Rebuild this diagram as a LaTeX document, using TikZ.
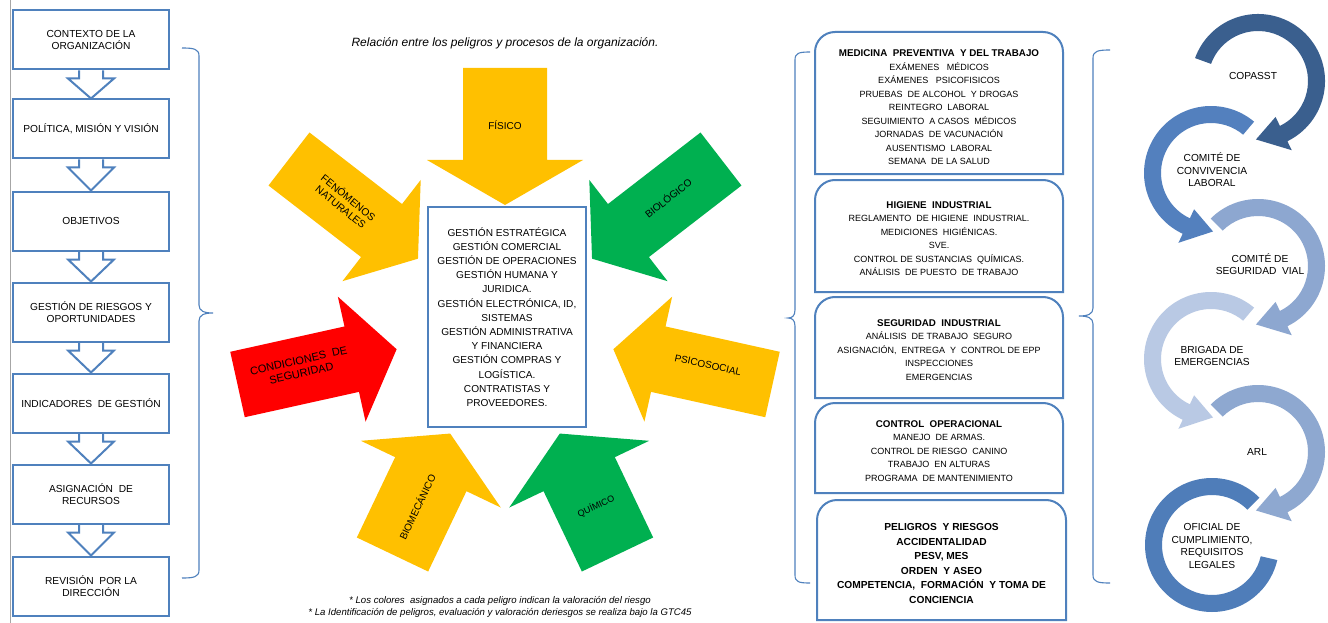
\documentclass[tikz,border=0pt]{standalone}
\usepackage{fontspec}
\setmainfont{Liberation Sans}
\definecolor{boxblue}{HTML}{4F81BD}
\definecolor{yel}{HTML}{FFC000}
\definecolor{grn}{HTML}{00B050}
\definecolor{rd}{HTML}{FF0000}
\definecolor{cA}{HTML}{3A5F8E}
\definecolor{cB}{HTML}{5380BE}
\definecolor{cC}{HTML}{8DA7D0}
\definecolor{cD}{HTML}{B9C9E4}
\definecolor{cE}{HTML}{8EA8D0}
\definecolor{cF}{HTML}{4F7DB9}
\newcommand\fsz[2]{\fontsize{#1}{#2}\selectfont}
\newcommand\rheadfont{\fsz{9.8}{13.5}\bfseries}
% block arrow: back-centre x, y, angle, shaft width, shaft length, head width, head length, colour
\newcommand\blockarrow[8]{%
  \begin{scope}[shift={(#1,#2)},rotate=#3]
    \fill[#8] (0,{-#4/2}) -- ({#5},{-#4/2}) -- ({#5},{-#6/2}) -- ({#5+#7},0)
      -- ({#5},{#6/2}) -- ({#5},{#4/2}) -- (0,{#4/2}) -- cycle;
  \end{scope}}
% ring arrow: cx, cy, start angle, base angle, tip angle, colour
\newcommand\ringarrow[6]{%
  \begin{scope}[shift={(#1,#2)},y=1pt]
    \fill[#6] (#3:67) arc[start angle=#3,end angle=#4,radius=67] -- (#4:77)
      -- (#5:58.5) -- (#4:40) -- (#4:50) arc[start angle=#4,end angle=#3,radius=50] -- cycle;
  \end{scope}}
\begin{document}
\begin{tikzpicture}[x=1pt,y=-1pt,
  lbox/.style={draw=boxblue, line width=2pt, minimum width=156pt, minimum height=59pt,
    align=center, font=\fsz{10.2}{12}, inner sep=2pt},
  harrow/.style={draw=boxblue, line width=2pt, line join=miter},
  cbox/.style={draw=boxblue, line width=2pt, minimum width=158pt, minimum height=220pt,
    align=center, font=\fsz{10.1}{14.2}},
  rbox/.style={draw=boxblue, line width=2pt},
  rtext/.style={align=center, font=\fsz{9}{13.5}},
  brace/.style={draw=boxblue, line width=1.1pt},
  albl/.style={font=\fsz{10}{12}, align=center},
  clbl/.style={font=\fsz{10.2}{12.6}, align=center}]
\useasboundingbox (0,0) rectangle (1328,623);
\fill[white] (0,0) rectangle (1328,623);
% page edge line
\draw[gray!70, line width=0.8pt] (10,0) -- (10,623);

% ---------- left column ----------
\node[lbox] (b1) at (91,40) {CONTEXTO DE LA\\ORGANIZACIÓN};
\node[lbox] (b2) at (91,129) {POLÍTICA, MISIÓN Y VISIÓN};
\node[lbox] (b3) at (91,221) {OBJETIVOS};
\node[lbox] (b4) at (91,312) {GESTIÓN DE RIESGOS Y\\OPORTUNIDADES};
\node[lbox] (b5) at (91,403) {INDICADORES \ DE GESTIÓN};
\node[lbox] (b6) at (91,494) {ASIGNACIÓN \ DE\\RECURSOS};
\node[lbox] (b7) at (91,586) {REVISIÓN \ POR LA\\DIRECCIÓN};
\foreach \a/\b in {b1/b2,b2/b3,b3/b4,b4/b5,b5/b6,b6/b7}{
  \draw[harrow] ([xshift=-12pt]\a.south) -- ([shift={(-12pt,-8pt)}]\a.south)
    -- ([shift={(-23pt,-8pt)}]\a.south) -- (\b.north)
    -- ([shift={(23pt,-8pt)}]\a.south) -- ([shift={(12pt,-8pt)}]\a.south)
    -- ([xshift=12pt]\a.south);
}
% left brace
\draw[brace] (182,48) .. controls (194,48) and (199,49) .. (199,56) -- (199,305)
  .. controls (199,311) and (204,313) .. (213,313)
  .. controls (204,313) and (199,315) .. (199,321) -- (199,570)
  .. controls (199,577) and (194,578) .. (182,578);

% ---------- centre ----------
\node[font=\fsz{12}{14}\itshape] (title) at (505,43) {Relación entre los peligros y procesos de la organización.};

\blockarrow{505}{68}{-90}{84}{92}{156}{45}{yel}
\blockarrow{289}{159}{-37.7}{67}{117}{128}{46}{yel}
\blockarrow{721}{159}{-142.3}{67}{117}{128}{46}{grn}
\blockarrow{237.5}{384.5}{12.5}{67}{117}{128}{46}{rd}
\blockarrow{772.5}{384.5}{167.5}{67}{117}{128}{46}{yel}
\blockarrow{392.5}{554.5}{64.5}{79}{89}{155}{45}{yel}
\blockarrow{617.5}{554.5}{115.5}{79}{89}{155}{45}{grn}

\node[albl] (fis) at (505,125) {FÍSICO};
\node[albl, font=\fsz{10.3}{12}, rotate=-39] (fen) at (345,202) {FENÓMENOS\\NATURALES};
\node[albl, rotate=38] (bio) at (668,198) {BIOLÓGICO};
\node[albl, font=\fsz{11}{13}, rotate=12.5] (cond) at (300,367) {CONDICIONES \ DE\\SEGURIDAD};
\node[albl, rotate=-12.5] (psi) at (708,365) {PSICOSOCIAL};
\node[albl, rotate=64.5] (biom) at (417,507) {BIOMECÁNICO};
\node[albl, font=\fsz{9}{11}, rotate=25] (qui) at (596,506) {QUÍMICO};

\node[cbox] (proc) at (507,317) {GESTIÓN ESTRATÉGICA\\GESTIÓN COMERCIAL\\GESTIÓN DE OPERACIONES\\GESTIÓN HUMANA Y\\JURIDICA.\\GESTIÓN ELECTRÓNICA, ID,\\SISTEMAS\\GESTIÓN ADMINISTRATIVA\\Y FINANCIERA\\GESTIÓN COMPRAS Y\\LOGÍSTICA.\\CONTRATISTAS Y\\PROVEEDORES.};

\node[font=\fsz{9.6}{11}\itshape] (note1) at (500,601) {* Los colores \ asignados a cada peligro indican la valoración del riesgo};
\node[font=\fsz{9.6}{11}\itshape] (note2) at (500,613) {* La Identificación de peligros, evaluación y valoración deriesgos se realiza bajo la GTC45};

% ---------- right boxes ----------
\draw[brace] (810,52) .. controls (799,52) and (795,53) .. (795,60) -- (795,310)
  .. controls (795,316) and (792,318) .. (788,318)
  .. controls (792,318) and (795,320) .. (795,326) -- (795,575)
  .. controls (795,582) and (799,583) .. (810,583);

\foreach \xa/\ya/\xb/\yb in {815/32/1063/174, 815/180/1063/292, 815/297/1063/398, 815/403/1063/493, 817/500/1066/620}{
  \draw[rbox] (\xa,\yb) -- (\xa,\ya+20) arc[start angle=180,end angle=270,radius=20]
    -- (\xb-20,\ya) arc[start angle=270,end angle=360,radius=20] -- (\xb,\yb) -- cycle;
}
\node[rtext] (med) at (939,107.5) {{\rheadfont MEDICINA \ PREVENTIVA \ Y DEL TRABAJO}\\EXÁMENES \ \ MÉDICOS\\EXÁMENES \ \ PSICOFISICOS\\PRUEBAS \ DE ALCOHOL \ Y DROGAS\\REINTEGRO \ LABORAL\\SEGUIMIENTO \ A CASOS \ MÉDICOS\\JORNADAS \ DE VACUNACIÓN\\AUSENTISMO \ LABORAL\\SEMANA \ DE LA SALUD};
\node[rtext] (hig) at (939,238.5) {{\rheadfont HIGIENE \ INDUSTRIAL}\\REGLAMENTO \ DE HIGIENE \ INDUSTRIAL.\\MEDICIONES \ HIGIÉNICAS.\\SVE.\\CONTROL DE SUSTANCIAS \ QUÍMICAS.\\ANÁLISIS \ DE PUESTO \ DE TRABAJO};
\node[rtext] (seg) at (939,350) {{\rheadfont SEGURIDAD \ INDUSTRIAL}\\ANÁLISIS \ DE TRABAJO \ SEGURO\\ASIGNACIÓN, \ ENTREGA \ Y \ CONTROL DE EPP\\INSPECCIONES\\EMERGENCIAS};
\node[rtext] (ope) at (939,451) {{\rheadfont CONTROL \ OPERACIONAL}\\MANEJO \ DE ARMAS.\\CONTROL DE RIESGO \ CANINO\\TRABAJO \ EN ALTURAS\\PROGRAMA \ DE MANTENIMIENTO};
\node[rtext, font=\fsz{10.2}{14.6}\bfseries] (pel) at (941.5,563.5) {PELIGROS \ Y RIESGOS\\ACCIDENTALIDAD\\PESV, MES\\ORDEN \ Y ASEO\\COMPETENCIA, \ FORMACIÓN \ Y TOMA DE\\CONCIENCIA};

\draw[brace] (1110,50) .. controls (1098,50) and (1093,51) .. (1093,58) -- (1093,308)
  .. controls (1093,314) and (1088,316) .. (1079,316)
  .. controls (1088,316) and (1093,318) .. (1093,324) -- (1093,575)
  .. controls (1093,582) and (1098,583) .. (1110,583);

% ---------- circular arrows ----------
\ringarrow{1258}{81}{160}{-64}{-92}{cA}
\ringarrow{1211}{173}{50}{245}{272}{cB}
\ringarrow{1258}{266}{135}{-64}{-92}{cC}
\ringarrow{1211}{359}{50}{245}{272}{cD}
\ringarrow{1258}{452}{135}{-64}{-92}{cE}
\begin{scope}[shift={(1212,545)},y=1pt]
  \fill[cF] (45:67) arc[start angle=45,end angle=347,radius=67] -- (347:50)
    arc[start angle=347,end angle=45,radius=50] -- cycle;
\end{scope}
\node[clbl] (cop) at (1253,76) {COPASST};
\node[clbl] (ccl) at (1212,170) {COMITÉ DE\\CONVIVENCIA\\LABORAL};
\node[clbl] (csv) at (1260,264) {COMITÉ DE\\SEGURIDAD \ VIAL};
\node[clbl] (bri) at (1212,356) {BRIGADA DE\\EMERGENCIAS};
\node[clbl] (arl) at (1257,452) {ARL};
\node[clbl] (ofi) at (1212,546) {OFICIAL DE\\CUMPLIMIENTO,\\REQUISITOS\\LEGALES};
\end{tikzpicture}
\end{document}
